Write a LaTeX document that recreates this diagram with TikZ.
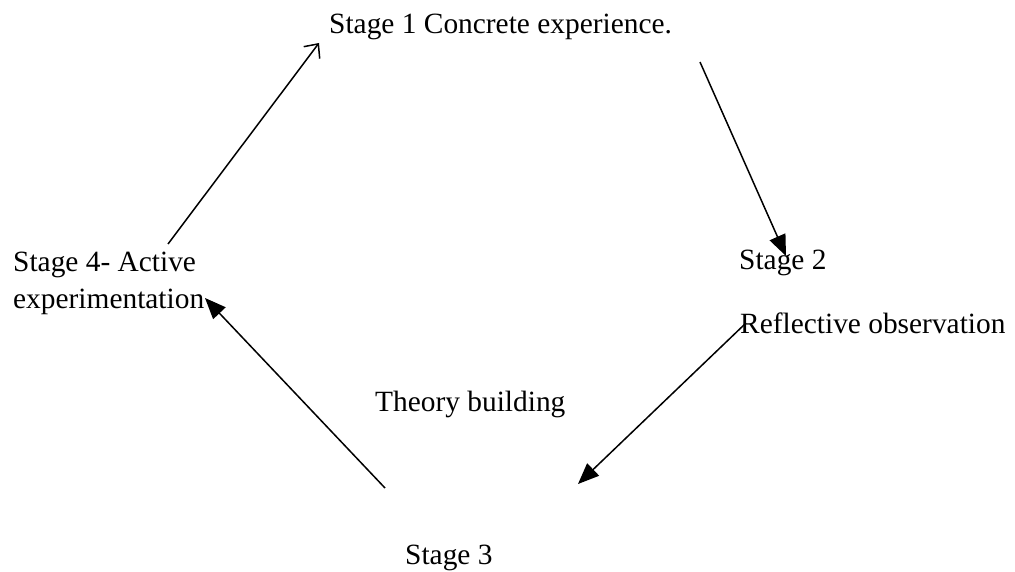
\documentclass[tikz,border=0pt]{standalone}
\usepackage{fontspec}
\setmainfont{Liberation Serif}
\usetikzlibrary{arrows.meta}
\begin{document}
\begin{tikzpicture}[x=1bp,y=-1bp,
  lbl/.style={anchor=base west,inner sep=0pt,font=\fontsize{29.5}{35}\selectfont},
  conn/.style={line width=1.5bp},
  openhead/.style={conn,-{Straight Barb[length=11bp,width=20bp]}},
  fillhead/.style={conn,-{Triangle[length=21bp,width=17bp]}}]
\useasboundingbox (0,0) rectangle (1015,572);
\node[lbl] (s1) at (329,34) {Stage 1 Concrete experience.};
\node[lbl] (s4a) at (13,272) {Stage 4- Active};
\node[lbl] (s4b) at (13,308) {experimentation};
\node[lbl] (s2) at (739,270) {Stage 2};
\node[lbl] (s2b) at (740,333) {Reflective observation};
\node[lbl] (tb) at (375,411) {Theory building};
\node[lbl] (s3) at (405,564) {Stage 3};
\coordinate (a1s) at (168,244);
\coordinate (a1e) at (319,43);
\coordinate (a2s) at (700,62);
\coordinate (a2e) at (786,256);
\coordinate (a3s) at (746,323);
\coordinate (a3e) at (578,484);
\coordinate (a4s) at (385,488);
\coordinate (a4e) at (205,298);
\draw[openhead] (a1s) -- (a1e);
\draw[fillhead] (a2s) -- (a2e);
\draw[fillhead] (a3s) -- (a3e);
\draw[fillhead] (a4s) -- (a4e);
\end{tikzpicture}
\end{document}
